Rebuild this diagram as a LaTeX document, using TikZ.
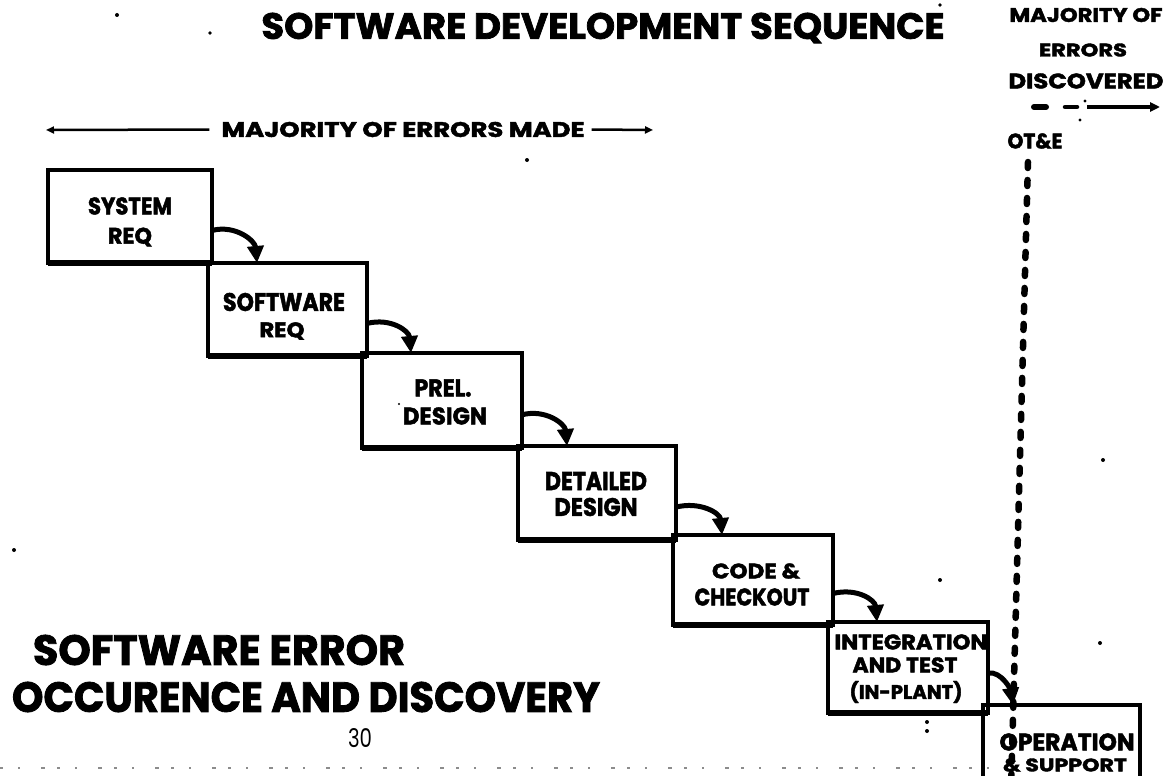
\documentclass[tikz,border=0pt]{standalone}
\usepackage{fontspec}
\usepackage{graphicx}
\setmainfont{Poppins}[BoldFeatures={FakeBold=2}]
\usetikzlibrary{arrows.meta,calc}
% #1 = width, #2 = cap height (pt), #3 = text
\newcommand\capfit[3]{\resizebox{#1pt}{#2pt}{\bfseries #3}}
% same, but the height covers the depth as well
\newcommand\totfit[3]{\resizebox*{#1pt}{#2pt}{\bfseries #3}}
\begin{document}
\begin{tikzpicture}[x=1pt,y=-1pt,
  stepbox/.style={draw,line width=4pt,inner sep=0pt,outer sep=0pt},
  lbl/.style={inner sep=0pt,outer sep=0pt},
  flow/.style={line width=5pt,-{Triangle[length=17pt,width=16pt]}},
  span/.style={line width=2.5pt,-{Triangle[length=8pt,width=7pt]}},
  speck/.style={fill=black}]
\useasboundingbox[fill=white] (0,0) rectangle (1171,776);
\clip (0,0) rectangle (1171,776);

% headings
\node[lbl] (title) at (603,28) {\capfit{683}{26}{SOFTWARE DEVELOPMENT SEQUENCE}};
\node[lbl] (made) at (403,129.5) {\capfit{363}{15}{MAJORITY OF ERRORS MADE}};
\node[lbl] (disc1) at (1086,15) {\capfit{153}{14}{MAJORITY OF}};
\node[lbl] (disc2) at (1083,50) {\capfit{88}{13}{ERRORS}};
\node[lbl] (disc3) at (1086,81) {\capfit{155}{15}{DISCOVERED}};
\node[lbl] (ote) at (1035,141) {\capfit{55}{15}{OT\&E}};
\node[lbl] (h1) at (219,650) {\capfit{372}{30}{SOFTWARE ERROR}};
\node[lbl] (h2) at (306,697) {\capfit{588}{30}{OCCURENCE AND DISCOVERY}};
\node[lbl] (page) at (360,738) {\resizebox{24pt}{19pt}{30}};

% span of the phases where errors are made
\coordinate (madeL) at (46,130);
\coordinate (madeR) at (653,130);
\draw[span] ($(made.west)+(-12,0)$) -- (madeL);
\draw[span] ($(made.east)+(7,0)$) -- (madeR);

% span where errors are discovered
\coordinate (dA) at (1034,107);
\coordinate (dB) at (1046,107);
\coordinate (dC) at (1065,107);
\coordinate (dD) at (1077,107);
\coordinate (dE) at (1087,107);
\coordinate (dF) at (1160,107);
\draw[line width=6pt,line cap=round] (dA) -- (dB);
\draw[line width=4.5pt,line cap=round] (dC) -- (dD);
\draw[line width=3.5pt,-{Triangle[length=10pt,width=9pt]}] (dE) -- (dF);

% the steps
\node[stepbox,minimum width=164pt,minimum height=93pt] (b1) at (130,216.5) {};
\node[stepbox,minimum width=159pt,minimum height=93pt] (b2) at (287.5,309.5) {};
\node[stepbox,minimum width=160pt,minimum height=95pt] (b3) at (442,400.5) {};
\node[stepbox,minimum width=158pt,minimum height=94pt] (b4) at (597,493) {};
\node[stepbox,minimum width=160pt,minimum height=90pt] (b5) at (753,580) {};
\node[stepbox,minimum width=160pt,minimum height=91pt] (b6) at (908,667.5) {};
\node[stepbox,minimum width=157pt,minimum height=100pt] (b7) at (1061.5,755) {};
\foreach \b in {b1,b2,b3,b4,b5,b6}
  \draw[line width=6.5pt] (\b.south west) -- (\b.south east);

% step labels
\node[lbl] (l1a) at (130,206) {\capfit{84}{17}{SYSTEM}};
\node[lbl] (l1b) at (130,237) {\capfit{44}{16}{REQ}};
\node[lbl] (l2a) at (284,302) {\capfit{122}{18}{SOFTWARE}};
\node[lbl] (l2b) at (282,331) {\capfit{45}{15}{REQ}};
\node[lbl] (l3a) at (443,388) {\capfit{57}{17}{PREL.}};
\node[lbl] (l3b) at (445,416) {\capfit{84}{17}{DESIGN}};
\node[lbl] (l4a) at (596,481) {\capfit{102}{18}{DETAILED}};
\node[lbl] (l4b) at (596,507) {\capfit{83}{18}{DESIGN}};
\node[lbl] (l5a) at (756,571) {\capfit{88}{15}{CODE \&}};
\node[lbl] (l5b) at (752,597) {\capfit{115}{17}{CHECKOUT}};
\node[lbl] (l6a) at (911,642) {\capfit{153}{15}{INTEGRATION}};
\node[lbl] (l6b) at (905,665) {\capfit{105}{15}{AND TEST}};
\node[lbl] (l6c) at (906,692) {\totfit{113}{22}{(IN-PLANT)}};
\node[lbl] (l7a) at (1067,742) {\capfit{135}{17}{OPERATION}};
\node[lbl] (l7b) at (1065,765) {\capfit{124}{13}{\& SUPPORT}};

% hand-over arrows between steps
\foreach \a/\b in {b1/b2,b2/b3,b3/b4,b4/b5,b5/b6}
  \draw[flow] ($(\a.north east)!0.65!(\a.south east)$)
    .. controls +(24,-6) and +(-2,-22) .. ($(\b.north west)+(49,0)$);
\draw[flow] ($(b6.north east)!0.56!(b6.south east)$)
    .. controls +(14,-2) and +(-2,-14) .. ($(b7.north west)+(30,0)$);

% OT&E marker
\coordinate (oteTop) at (1028,162);
\coordinate (oteBot) at (1011,790);
\draw[line width=6.5pt,line cap=round,dash pattern=on 6pt off 12pt] (oteTop) -- (oteBot);

% specks
\fill[speck] (117,15) circle (2);
\fill[speck] (210,33) circle (1.8);
\fill[speck] (940,5) circle (1.8);
\fill[speck] (527,160) circle (2);
\fill[speck] (1085,101) circle (1.6);
\fill[speck] (1080,120) circle (1.6);
\fill[speck] (940,580) circle (2);
\fill[speck] (1100,643) circle (2);
\fill[speck] (1103,460) circle (2);
\fill[speck] (14,550) circle (2);
\fill[speck] (399,404) circle (1.2);
\fill[speck] (927,722) circle (2);
\fill[speck] (927,731) circle (2);
\draw[black!45,line width=1.5pt,dash pattern=on 3pt off 15pt on 2pt off 21pt on 4pt off 12pt] (0,768) -- (990,768);
\end{tikzpicture}
\end{document}
